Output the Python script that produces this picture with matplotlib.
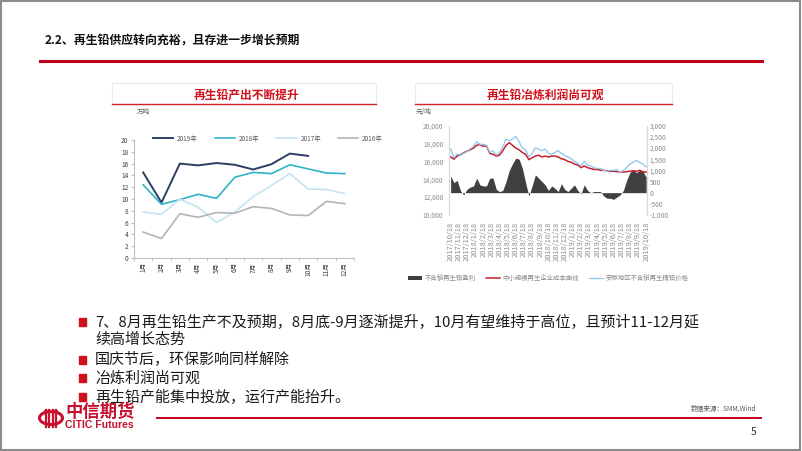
import matplotlib.pyplot as plt
import matplotlib.patches as mpatches
from matplotlib.lines import Line2D
import numpy as np

plt.rcParams['font.family'] = ['Noto Sans CJK SC', 'DejaVu Sans']

W, H = 802, 451

# ---- left chart data (万吨) ----
months = ['1月', '2月', '3月', '4月', '5月', '6月', '7月', '8月', '9月', '10月', '11月', '12月']
y2019 = [14.5, 9.4, 16.0, 15.7, 16.1, 15.8, 15.0, 15.9, 17.7, 17.3]
y2018 = [12.4, 9.1, 9.9, 10.8, 10.1, 13.7, 14.5, 14.3, 15.8, 15.1, 14.4, 14.3]
y2017 = [7.8, 7.4, 10.0, 8.6, 6.0, 7.8, 10.4, 12.3, 14.3, 11.7, 11.6, 10.9]
y2016 = [4.4, 3.3, 7.5, 6.9, 7.7, 7.6, 8.7, 8.4, 7.3, 7.2, 9.6, 9.2]

# ---- right chart data, sampled every 0.4 month from 2017/10/18 ----
t_month = np.arange(61) * 0.4
cost = [16500, 16250, 16600, 16750, 16950, 17150, 17300, 17500, 17800, 17900,
        17700, 17750, 16900, 16800, 16600, 16700, 17200, 17800, 18100, 17800,
        17500, 17300, 17000, 16800, 16200, 16400, 16600, 16700, 16500, 16600,
        16500, 16600, 16600, 16500, 16300, 16200, 16000, 15900, 15700, 15600,
        15300, 15500, 15300, 15200, 15100, 15100, 15000, 15000, 14950, 14900,
        14900, 14850, 14800, 14800, 14850, 14900, 14950, 14900, 15000, 14850, 14800]
price = [17400, 16400, 16800, 16700, 16900, 17100, 17400, 17700, 18200, 17900,
         17900, 17800, 17000, 17200, 16700, 17000, 17600, 18500, 18300, 18500,
         18800, 18200, 17500, 17300, 16500, 16900, 17500, 17400, 17200, 17400,
         16900, 16800, 17000, 17200, 16900, 16700, 16500, 16300, 16000, 15800,
         15500, 16000, 15600, 15500, 15300, 15200, 15200, 15000, 14900, 15000,
         15000, 15100, 14700, 15000, 15300, 15700, 15900, 16100, 15900, 15700, 15400]
profit = [750, 450, 550, 100, -100, 150, 250, 300, 650, 350,
          300, 300, 650, 650, 150, 50, 100, 500, 1000, 1300,
          1550, 1500, 1100, 450, -150, 300, 800, 650, 500, 350,
          100, 300, 200, 50, 400, 150, 50, 200, 350, 100,
          -50, 350, 100, 0, 50, 50, 50, -150, -250, -250,
          -300, -200, -100, 100, 550, 900, 1050, 900, 1000, 950, 700]
date_labels = ['2017/10/18', '2017/11/18', '2017/12/18', '2018/1/18', '2018/2/18',
               '2018/3/18', '2018/4/18', '2018/5/18', '2018/6/18', '2018/7/18',
               '2018/8/18', '2018/9/18', '2018/10/18', '2018/11/18', '2018/12/18',
               '2019/1/18', '2019/2/18', '2019/3/18', '2019/4/18', '2019/5/18',
               '2019/6/18', '2019/7/18', '2019/8/18', '2019/9/18', '2019/10/18']

bullets = ['7、8月再生铅生产不及预期，8月底-9月逐渐提升，10月有望维持于高位，且预计11-12月延\n续高增长态势',
           '国庆节后，环保影响同样解除',
           '冶炼利润尚可观',
           '再生铅产能集中投放，运行产能抬升。']


def rect(x0, y0, x1, y1):
    return [x0 / W, 1 - y1 / H, (x1 - x0) / W, (y1 - y0) / H]


def fx(x):
    return x / W


def fy(y):
    return 1 - y / H


fig = plt.figure(figsize=(8.02, 4.51), dpi=100)

# slide frame
fig.patches.append(mpatches.Rectangle((0.001, 0.002), 0.997, 0.996, transform=fig.transFigure,
                                      fill=False, edgecolor='#8c8c8c', lw=1.5))

# heading
fig.text(fx(45), fy(41), '2.2、再生铅供应转向充裕，且存进一步增长预期', fontsize=8.6,
         fontweight='bold', ha='left', va='center', color='#111111')
fig.add_artist(Line2D([fx(40), fx(762)], [fy(61), fy(61)], color='#c0001a', lw=2.2))

# chart title boxes
for x0, x1, ttl in [(112, 376, '再生铅产出不断提升'), (415, 672, '再生铅冶炼利润尚可观')]:
    fig.patches.append(mpatches.Rectangle((fx(x0), fy(104)), (x1 - x0) / W, 21 / H,
                                          transform=fig.transFigure, fill=False,
                                          edgecolor='#ececec', lw=0.8))
    fig.add_artist(Line2D([fx(x0), fx(x1)], [fy(104), fy(104)], color='#d0202a', lw=1.0))
    fig.text(fx((x0 + x1) / 2 + 2), fy(95), ttl, fontsize=8.5, fontweight='bold',
             color='#d0101a', ha='center', va='center')

# ---- left chart ----
ax = fig.add_axes(rect(134, 140, 354, 258))
xs = np.arange(len(months))
ax.plot(xs[:len(y2019)], y2019, color='#2b3f63', lw=1.4, label='2019年')
ax.plot(xs, y2018, color='#2fb3c8', lw=1.2, label='2018年')
ax.plot(xs, y2017, color='#c4e4f1', lw=1.2, label='2017年')
ax.plot(xs, y2016, color='#b4b4b4', lw=1.2, label='2016年')
ax.set_xlim(-0.5, 11.5)
ax.set_ylim(0, 20)
ax.set_yticks(range(0, 21, 2))
ax.set_xticks(xs)
ax.set_xticklabels(months, rotation=90)
ax.set_xticks(np.arange(-0.5, 12, 1), minor=True)
ax.tick_params(axis='x', which='major', length=0, labelsize=4.8, colors='#404040', pad=3)
ax.tick_params(axis='x', which='minor', length=2.5, color='#bfbfbf')
ax.tick_params(axis='y', labelsize=4.8, colors='#404040', length=2, color='#bfbfbf', pad=2)
for s in ['top', 'right']:
    ax.spines[s].set_visible(False)
for s in ['left', 'bottom']:
    ax.spines[s].set_color('#bfbfbf')
    ax.spines[s].set_linewidth(0.8)
ax.legend(loc='lower left', bbox_to_anchor=(0.06, 0.93), ncol=4, frameon=False,
          fontsize=4.6, handlelength=3.2, columnspacing=2.6, handletextpad=0.6,
          labelcolor='#595959')
fig.text(fx(137), fy(112), '万吨', fontsize=4.8, color='#595959', ha='left', va='center')

# ---- right chart ----
axl = fig.add_axes(rect(449, 125.7, 647, 215))
axr = axl.twinx()
axr.fill_between(t_month, 0, profit, color='#404040', linewidth=0,
                 label='不含税再生铅盈利')
axl.plot(t_month, cost, color='#c8202d', lw=1.1, label='中小规模再生企业成本曲线')
axl.plot(t_month, price, color='#8cc4ea', lw=0.9, label='安徽地区不含税再生精铅价格')
axl.set_zorder(axr.get_zorder() + 1)
axl.patch.set_visible(False)
axl.set_ylim(10000, 20000)
axr.set_ylim(-1000, 3000)
axl.set_xlim(-0.2, 24.1)
axl.set_yticks(range(10000, 20001, 2000))
axl.set_yticklabels([f'{v:,}' for v in range(10000, 20001, 2000)])
axr.set_yticks(range(-1000, 3001, 500))
axr.set_yticklabels([f'{v:,}' for v in range(-1000, 3001, 500)])
axl.set_xticks(np.arange(len(date_labels)))
axl.set_xticklabels(date_labels, rotation=90)
axl.tick_params(axis='x', length=0, labelsize=5.4, colors='#8c8c8c', pad=5)
axl.tick_params(axis='y', length=0, labelsize=4.8, colors='#8c8c8c', pad=4)
axr.tick_params(axis='y', length=0, labelsize=4.8, colors='#8c8c8c', pad=2)
for a in (axl, axr):
    for s in ['top', 'bottom']:
        a.spines[s].set_visible(False)
    for s in ['left', 'right']:
        a.spines[s].set_color('#d9d9d9')
        a.spines[s].set_linewidth(0.8)
fig.text(fx(416), fy(112), '元/吨', fontsize=4.8, color='#595959', ha='left', va='center')
h1, l1 = axr.get_legend_handles_labels()
h2, l2 = axl.get_legend_handles_labels()
fig.legend(h1 + h2, l1 + l2, loc='center', bbox_to_anchor=(fx(548), fy(278)), ncol=3,
           frameon=False, fontsize=4.6, handlelength=2.2, columnspacing=1.6,
           handletextpad=0.4, labelcolor='#8c8c8c')

# ---- bullet text ----
bullet_y = [322, 360, 378, 397]
for by, txt in zip(bullet_y, bullets):
    fig.patches.append(mpatches.Rectangle((fx(79), fy(by + 4)), 7 / W, 8 / H,
                                          transform=fig.transFigure, color='#d0101a'))
    if '\n' in txt:
        fig.text(fx(95), fy(by - 7), txt, fontsize=10.8, color='#1a1a1a', ha='left', va='top',
                 linespacing=1.2)
    else:
        fig.text(fx(95), fy(by), txt, fontsize=10.8, color='#1a1a1a', ha='left', va='center')

# ---- footer ----
fig.patches.append(mpatches.Circle((fx(51), fy(418)), 11.5 / W, transform=fig.transFigure,
                                   facecolor='white', edgecolor='#c8102e', lw=2.2))
for dx in (-5, -1.7, 1.7, 5):
    fig.add_artist(Line2D([fx(51 + dx), fx(51 + dx)], [fy(410), fy(427)], color='#c8102e',
                          lw=1.6))
fig.add_artist(Line2D([fx(45), fx(57)], [fy(411), fy(411)], color='#c8102e', lw=1.2))
fig.text(fx(65), fy(412), '中信期货', fontsize=12.5, fontweight='bold', color='#c8102e',
         ha='left', va='center')
fig.text(fx(65), fy(425), 'CITIC Futures', fontsize=7.6, fontweight='bold', color='#c8102e',
         ha='left', va='center', family='Liberation Sans')
fig.add_artist(Line2D([fx(157), fx(761)], [fy(418), fy(418)], color='#c0001a', lw=1.4))
fig.text(fx(756), fy(409), '数据来源：SMM,Wind', fontsize=4.8, color='#595959',
         ha='right', va='center')
fig.text(fx(756), fy(432), '5', fontsize=7.5, color='#333333', ha='right', va='center')

fig.savefig('out.png', dpi=100)
